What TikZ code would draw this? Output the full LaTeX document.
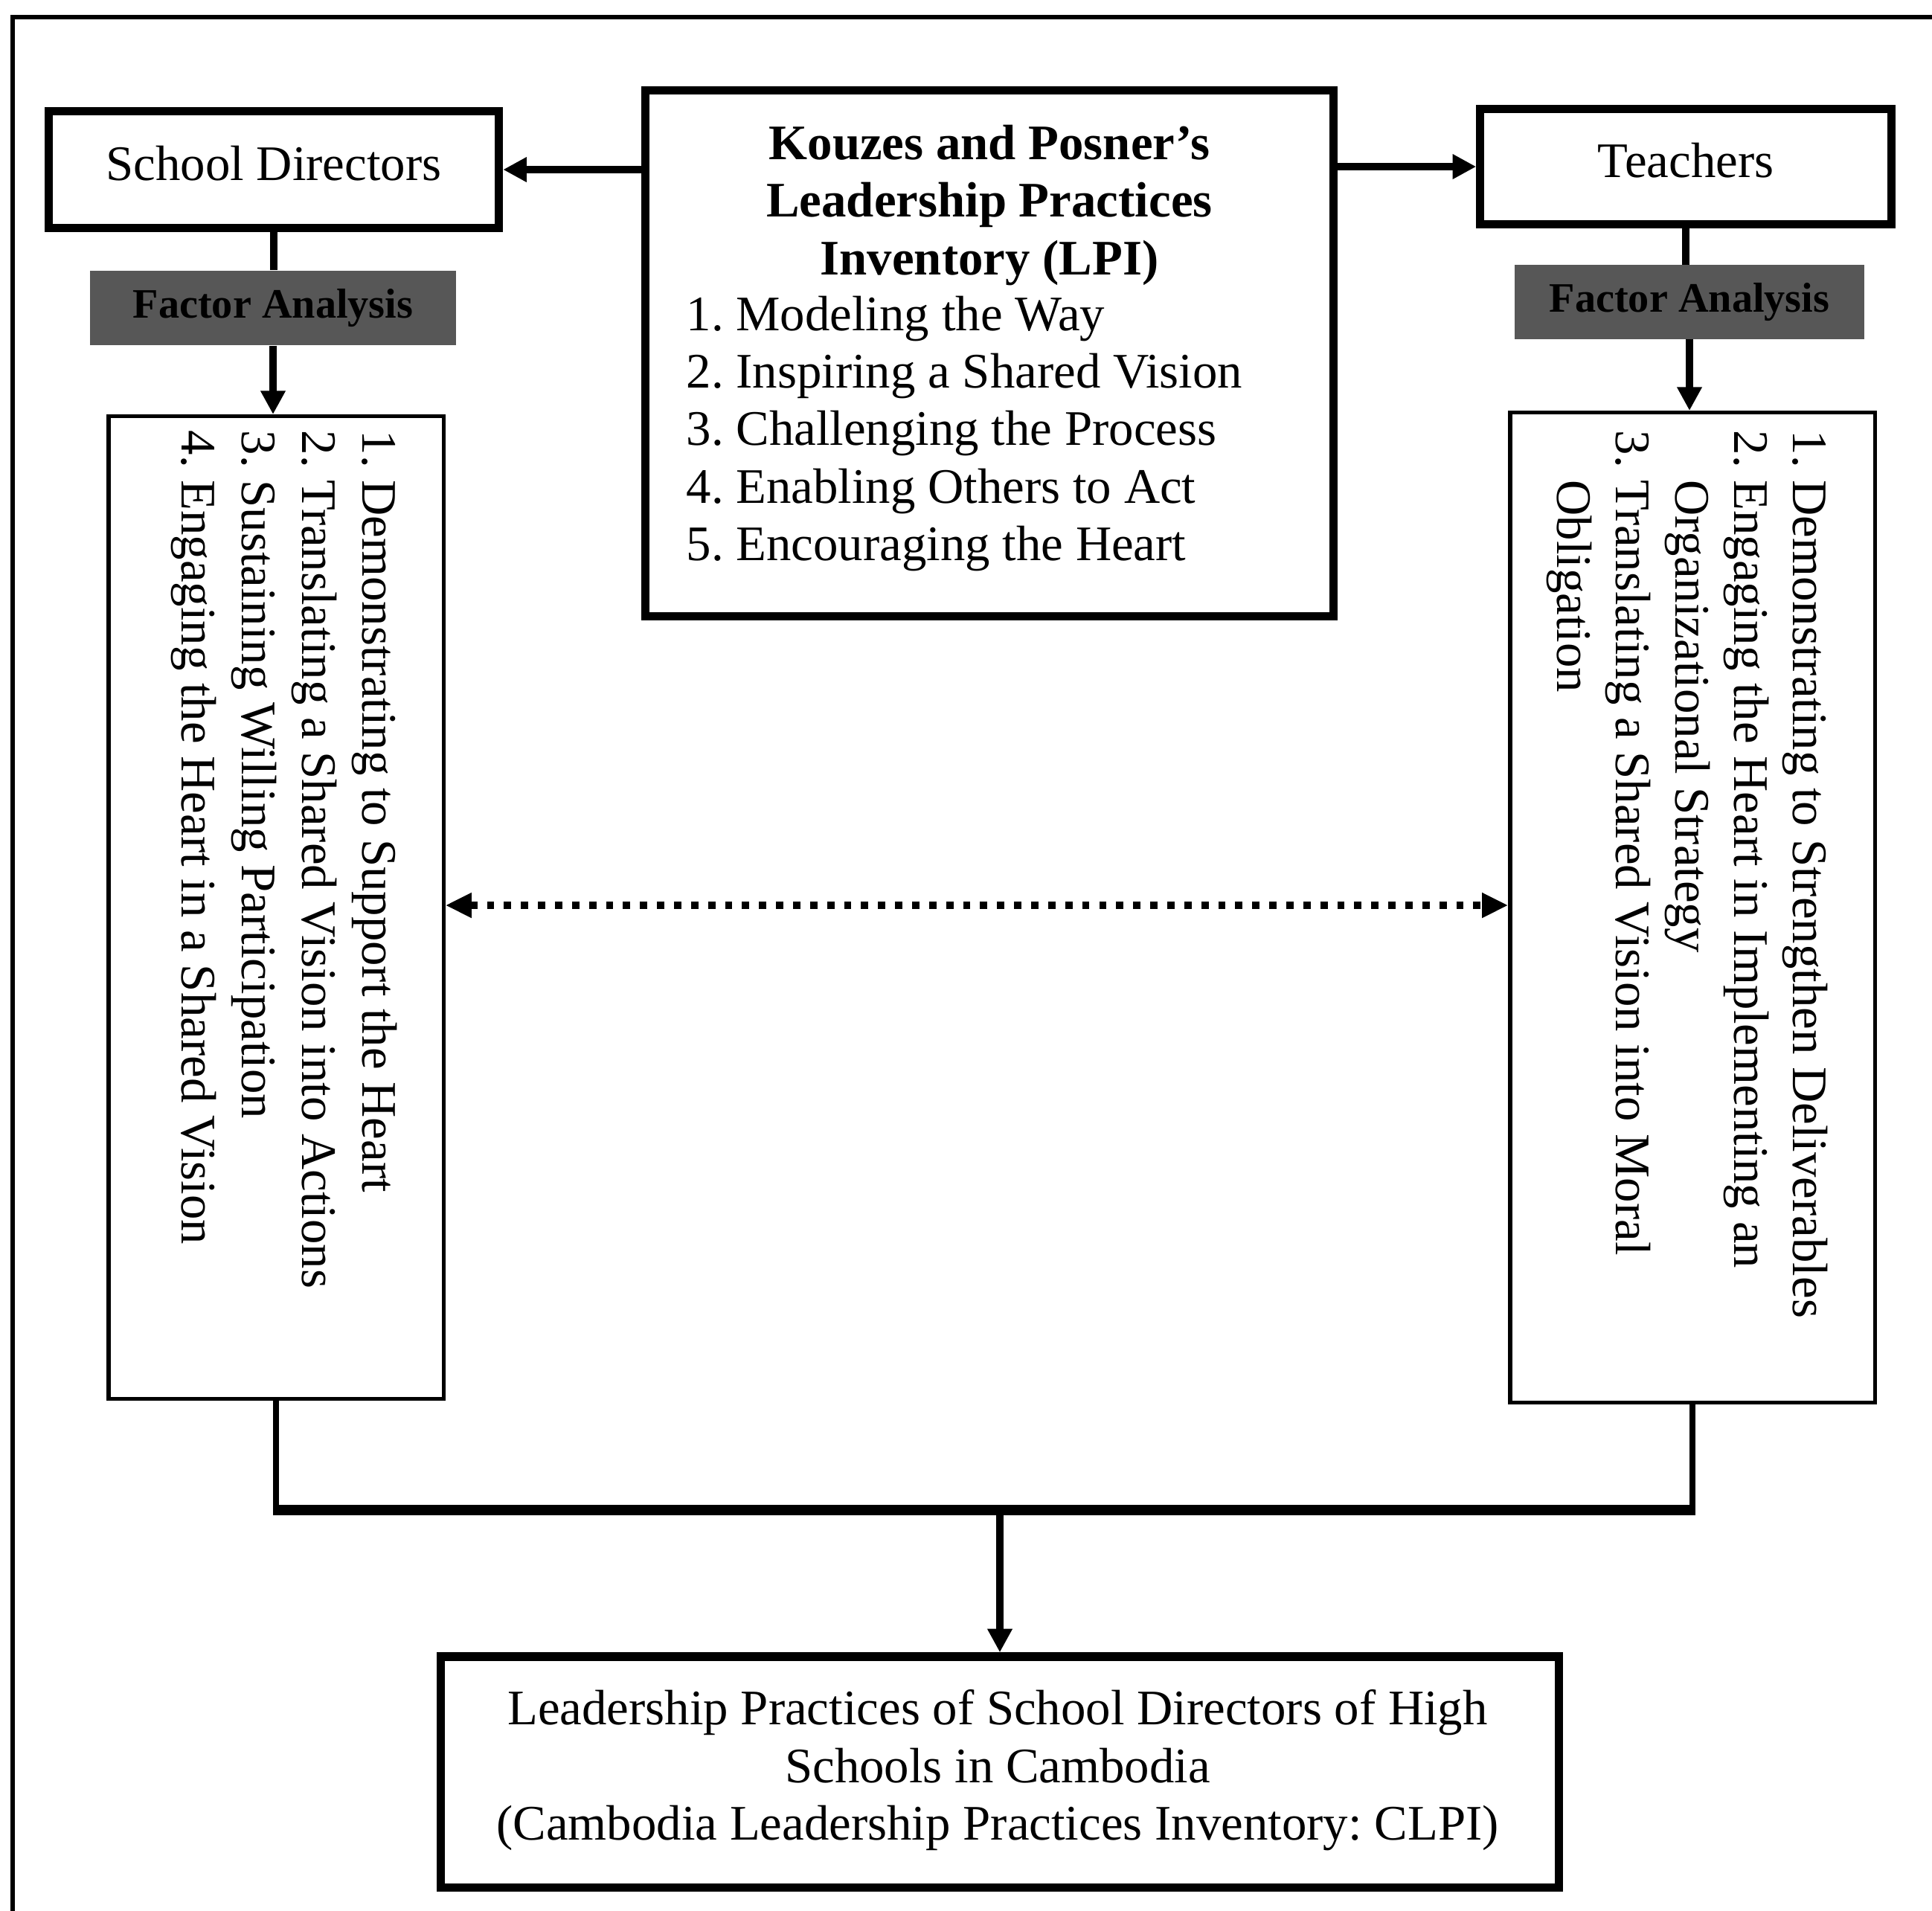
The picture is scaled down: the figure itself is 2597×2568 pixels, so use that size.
\documentclass[tikz,border=0pt]{standalone}
\usepackage{fontspec}
\setmainfont{Liberation Serif}
\usetikzlibrary{arrows.meta,calc}
\frenchspacing

\begin{document}
\begin{tikzpicture}[x=0.01cm,y=-0.01cm,
  box/.style={draw, line width=3.2pt, fill=white, inner sep=0pt},
  listbox/.style={draw, line width=1.5pt, fill=white, inner sep=0pt},
  fabox/.style={fill=black!66, inner sep=0pt,
    font=\bfseries\fontsize{16}{18}\selectfont},
  txt/.style={inner sep=0pt, font=\fontsize{19}{22}\selectfont},
  conn/.style={line width=2.8pt},
  thin conn/.style={line width=2.2pt},
  tip/.style={-{Triangle[length=9pt,width=9pt]}},
]
% page area and outer frame
\useasboundingbox (0,0) rectangle (2597,2568);
\clip (0,0) rectangle (2597,2568);
\draw[line width=1.6pt] (2700,23) -- (17,23) -- (17,2700);

% boxes
\node[box, minimum width=6.05cm, minimum height=1.57cm] (sd) at (368,228) {};
\node[box, minimum width=5.52cm, minimum height=1.55cm] (tch) at (2266,224) {};
\node[box, minimum width=9.24cm, minimum height=7.07cm] (lpi) at (1330,475) {};
\node[fabox, minimum width=4.92cm, minimum height=1.0cm] (fal) at (367,414) {Factor Analysis};
\node[fabox, minimum width=4.69cm, minimum height=0.99cm] (far) at (2271,406) {Factor Analysis};
\node[listbox, minimum width=4.5cm, minimum height=13.2cm] (ll) at (371,1220) {};
\node[listbox, minimum width=4.9cm, minimum height=13.3cm] (rl) at (2275,1220) {};
\node[box, minimum width=15.02cm, minimum height=3.1cm] (out) at (1344,2382) {};

% texts inside the boxes
\node[txt] (sdtext) at (368,220) {School Directors};
\node[txt] (tchtext) at (2266,216) {Teachers};
\node[txt, align=center, font=\bfseries\fontsize{19}{22}\selectfont] (lpititle) at (1330,276)
  {Kouzes and Posner's\\Leadership Practices\\Inventory (LPI)};
\node[txt, align=left, anchor=west] (lpilist) at (922,583)
  {1. Modeling the Way\\2. Inspiring a Shared Vision\\3. Challenging the Process\\4. Enabling Others to Act\\5. Encouraging the Heart};
\node[txt, rotate=-90, align=left, anchor=west, font=\fontsize{19}{23}\selectfont] (lltext) at (382,578)
  {1. Demonstrating to Support the Heart\\2. Translating a Shared Vision into Actions\\3. Sustaining Willing Participation\\4. Engaging the Heart in a Shared Vision};
\node[txt, rotate=-90, align=left, anchor=west, font=\fontsize{19}{22.5}\selectfont] (rltext) at (2268,578)
  {1. Demonstrating to Strengthen Deliverables\\2. Engaging the Heart in Implementing an\\\hphantom{2. }Organizational Strategy\\3. Translating a Shared Vision into Moral\\\hphantom{3. }Obligation};
\node[txt, align=center] (outtext) at (1341,2380)
  {Leadership Practices of School Directors of High\\Schools in Cambodia\\(Cambodia Leadership Practices Inventory: CLPI)};

% connectors
\draw[conn, tip] (lpi.west |- sd.east) -- (sd.east);
\draw[conn, tip] (lpi.east |- tch.west) -- (tch.west);
\draw[conn] (sd.south) -- (sd.south |- fal.north);
\draw[conn, tip] (fal.south) -- (fal.south |- ll.north);
\draw[conn] (tch.south) -- (tch.south |- far.north);
\draw[conn, tip] (far.south) -- (far.south |- rl.north);

\draw[line width=2.8pt, dash pattern=on 2.8pt off 3.7pt,
  {Triangle[length=10pt,width=9pt]}-{Triangle[length=10pt,width=9pt]}]
  (ll.east |- 0,1217) -- (rl.west |- 0,1217);

\coordinate (jn) at (1345,2030);
\draw[thin conn] (ll.south) -- (ll.south |- jn);
\draw[thin conn] (rl.south) -- (rl.south |- jn);
\draw[line width=4pt] ([xshift=-1.1pt]ll.south |- jn) -- ([xshift=1.1pt]rl.south |- jn);
\draw[line width=3pt, tip] (out.north |- jn) -- (out.north);
\end{tikzpicture}
\end{document}
